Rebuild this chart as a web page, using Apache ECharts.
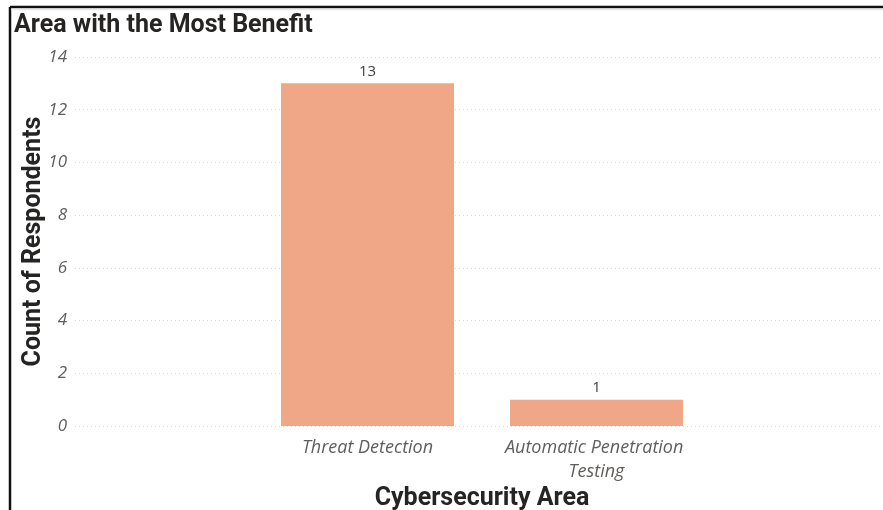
<!DOCTYPE html>
<html>
<head>
<meta charset="utf-8">
<script src="https://cdn.jsdelivr.net/npm/echarts@6/dist/echarts.min.js"></script>
<style>
html,body{margin:0;padding:0;background:#fff;}
#chart{width:883px;height:510px;}
</style>
</head>
<body>
<div id="chart"></div>
<script>
const categories = ['Threat Detection', 'Automatic Penetration Testing'];
const counts = [13, 1];
const yTicks = [0, 2, 4, 6, 8, 10, 12, 14];

const chart = echarts.init(document.getElementById('chart'));
const yMin = yTicks[0], yMax = yTicks[yTicks.length - 1];
const labelFont = 'Open Sans, Noto Sans, sans-serif';
const boldFont = 'Roboto, Noto Sans, sans-serif';

chart.setOption({
  backgroundColor: '#fff',
  animation: false,
  title: {
    text: 'Area with the Most Benefit',
    left: 9, top: 8,
    textStyle: { fontFamily: boldFont, fontWeight: 'bold', fontSize: 25, color: '#252423' }
  },
  graphic: [
    { type: 'line', shape: { x1: 10, y1: 7, x2: 883, y2: 7 }, style: { stroke: '#111', lineWidth: 2.5 } },
    { type: 'line', shape: { x1: 10, y1: 7, x2: 10, y2: 510 }, style: { stroke: '#111', lineWidth: 2.5 } },
    { type: 'line', shape: { x1: 11, y1: 9.5, x2: 883, y2: 9.5 }, style: { stroke: '#e8e8e8', lineWidth: 1.5 } }
  ],
  grid: [
    { left: 75, right: 0, top: 57, bottom: 84, outerBoundsMode: 'none', containLabel: false },
    { left: 253, width: 458, top: 57, bottom: 84, outerBoundsMode: 'none', containLabel: false }
  ],
  xAxis: [
    { gridIndex: 0, type: 'value', show: false, min: 0, max: 1 },
    {
      gridIndex: 1, type: 'category', data: categories,
      axisLine: { show: false }, axisTick: { show: false },
      axisLabel: {
        margin: 10, interval: 0, width: 200, overflow: 'break',
        fontFamily: labelFont, fontStyle: 'italic', fontSize: 18, color: '#605e5c', lineHeight: 24
      },
      name: 'Cybersecurity Area', nameLocation: 'middle', nameGap: 60, nameMoveOverlap: false,
      nameTextStyle: { fontFamily: boldFont, fontWeight: 'bold', fontSize: 25, color: '#252423' }
    }
  ],
  yAxis: [
    {
      gridIndex: 0, type: 'value', min: yMin, max: yMax, interval: 2,
      axisLine: { show: false }, axisTick: { show: false },
      axisLabel: { margin: 8, fontFamily: labelFont, fontStyle: 'italic', fontSize: 17, color: '#605e5c' },
      splitLine: { lineStyle: { color: '#d9d9d9', type: [1, 3], width: 1 } },
      name: 'Count of Respondents', nameLocation: 'middle', nameGap: 29, nameMoveOverlap: false,
      nameTextStyle: { fontFamily: boldFont, fontWeight: 'bold', fontSize: 25, color: '#252423' }
    },
    { gridIndex: 1, type: 'value', min: yMin, max: yMax, interval: 2, show: false }
  ],
  series: [{
    type: 'bar', xAxisIndex: 1, yAxisIndex: 1,
    data: counts, barWidth: 173,
    itemStyle: { color: '#f0a787' },
    label: { show: true, position: 'top', distance: 4, fontFamily: labelFont, fontSize: 15, color: '#404040' }
  }]
});
</script>
</body>
</html>
